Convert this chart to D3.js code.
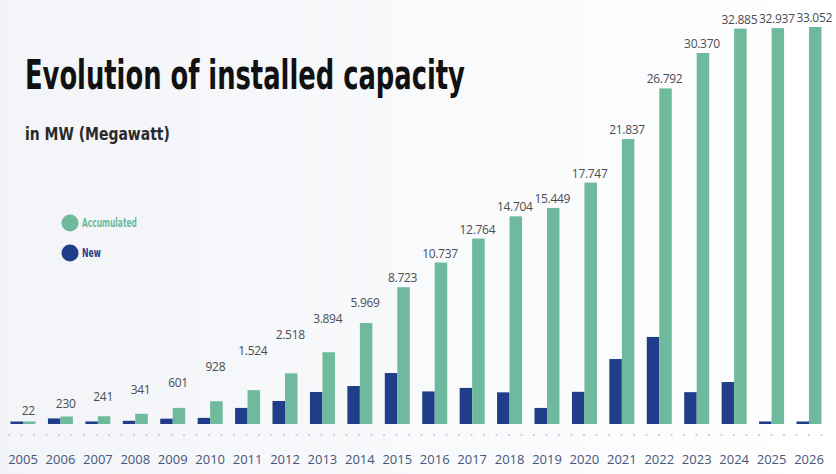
<!DOCTYPE html>
<html>
<head>
<meta charset="utf-8">
<script src="https://cdn.jsdelivr.net/npm/d3@7"></script>
<style>
  html, body { margin: 0; padding: 0; background: #ffffff; }
  svg { display: block; }
</style>
</head>
<body>
<svg id="chart" width="836" height="474"></svg>
<script>
// Installed capacity per year, in MW
const years = ["2005","2006","2007","2008","2009","2010","2011","2012","2013","2014","2015",
               "2016","2017","2018","2019","2020","2021","2022","2023","2024","2025","2026"];
const accumulated = [22, 230, 241, 341, 601, 928, 1524, 2518, 3894, 5969, 8723,
                     10737, 12764, 14704, 15449, 17747, 21837, 26792, 30370, 32885, 32937, 33052];
const newCapacity = [22, 160, 60, 80, 150, 180, 600, 940, 1420, 1760, 2540,
                     1450, 1650, 1400, 600, 1430, 3440, 4960, 1410, 1990, 60, 45];
const seriesNames = ["New", "Accumulated"];
const legendLabels = ["Accumulated", "New"];

const W = 836, H = 474;
const baseY = 424;
const colors = { New: "#1f3d88", Accumulated: "#6fba9c" };
const condensed = "'Liberation Sans Narrow', 'DejaVu Sans Condensed', 'Liberation Sans', sans-serif";

const svg = d3.select("#chart");

// soft grey-to-white backdrop
const defs = svg.append("defs");
const grad = defs.append("linearGradient").attr("id", "bg").attr("x1", 0).attr("x2", 1).attr("y1", 0).attr("y2", 0);
grad.append("stop").attr("offset", "0%").attr("stop-color", "#f2f4f7");
grad.append("stop").attr("offset", "55%").attr("stop-color", "#f9fafc");
grad.append("stop").attr("offset", "100%").attr("stop-color", "#ffffff");
svg.append("rect").attr("width", W).attr("height", H).attr("fill", "url(#bg)");

// scales
const x = d3.scaleBand().domain(years).range([4.3, 827.7]).padding(0);
const xSub = d3.scaleBand().domain(seriesNames)
  .range([x.bandwidth() / 2 - 12.5, x.bandwidth() / 2 + 12.5]).padding(0);
const y = d3.scalePow().exponent(0.8).domain([0, d3.max(accumulated)]).range([baseY, 27]);

const fmt = d3.formatLocale({ decimal: ",", thousands: ".", grouping: [3], currency: ["", ""] }).format(",d");

const rows = years.map((yr, i) => ({ year: yr, i, New: newCapacity[i], Accumulated: accumulated[i] }));

// dotted baseline
svg.append("line")
  .attr("x1", 8).attr("x2", 828).attr("y1", 435).attr("y2", 435)
  .attr("stroke", "#cdd3dc").attr("stroke-width", 2)
  .attr("stroke-dasharray", "2 10.5");

// bars
const groups = svg.append("g").selectAll("g").data(rows).join("g")
  .attr("transform", d => `translate(${x(d.year)},0)`);

const minH = 2.5;
groups.selectAll("rect").data(d => seriesNames.map(k => ({ key: k, value: d[k] }))).join("rect")
  .attr("x", d => xSub(d.key))
  .attr("width", xSub.bandwidth())
  .attr("y", d => Math.min(y(d.value), baseY - minH))
  .attr("height", d => Math.max(baseY - y(d.value), minH))
  .attr("fill", d => colors[d.key]);

// value labels above the accumulated bars; early labels follow a rising guide
const labelGuide = d3.scaleLinear().domain([0, 4, 6, 9]).range([415, 387, 355, 307]);
svg.append("g").selectAll("text").data(rows).join("text")
  .attr("x", d => x(d.year) + xSub("Accumulated") + xSub.bandwidth() / 2 - 1)
  .attr("y", d => Math.min(y(d.Accumulated) - 5, d.i <= 9 ? labelGuide(d.i) : Infinity))
  .attr("text-anchor", "middle")
  .attr("font-family", "'Open Sans', 'Noto Sans', sans-serif")
  .attr("font-size", 12)
  .attr("letter-spacing", -0.3)
  .attr("fill", "#4a4d52")
  .text(d => fmt(d.Accumulated));

// year labels
const xAxis = d3.axisBottom(x).tickSize(0).tickPadding(0);
const axisG = svg.append("g").attr("transform", "translate(0,455)").call(xAxis);
axisG.select(".domain").remove();
axisG.selectAll("text")
  .attr("font-family", "'Open Sans', 'Noto Sans', sans-serif")
  .attr("font-size", 13)
  .attr("fill", "#46557a");

// headline text squeezed horizontally to a target width
function condensedText(str, px, py, size, width, fill) {
  const g = svg.append("g");
  const t = g.append("text")
    .attr("font-family", condensed)
    .attr("font-stretch", "condensed")
    .attr("font-weight", 700)
    .attr("font-size", size)
    .attr("fill", fill)
    .text(str);
  const natural = t.node().getComputedTextLength();
  g.attr("transform", `translate(${px},${py}) scale(${width / natural},1)`);
}
condensedText("Evolution of installed capacity", 25, 89, 41, 440, "#111111");
condensedText("in MW (Megawatt)", 25, 140, 18, 145, "#2a2a2a");

// legend
const legend = svg.append("g");
const legendItems = legend.selectAll("g").data(legendLabels).join("g")
  .attr("transform", (d, i) => `translate(70,${223 + i * 30})`);
legendItems.append("circle").attr("r", 8.5).attr("fill", d => colors[d]);
legendItems.append("text")
  .attr("x", 12).attr("y", 4)
  .attr("font-family", condensed)
  .attr("font-stretch", "condensed")
  .attr("font-weight", 700)
  .attr("font-size", 12)
  .attr("fill", d => d === "New" ? "#1f3d88" : "#6fba9c")
  .attr("textLength", d => d === "New" ? 19 : 55)
  .attr("lengthAdjust", "spacingAndGlyphs")
  .text(d => d);
</script>
</body>
</html>
